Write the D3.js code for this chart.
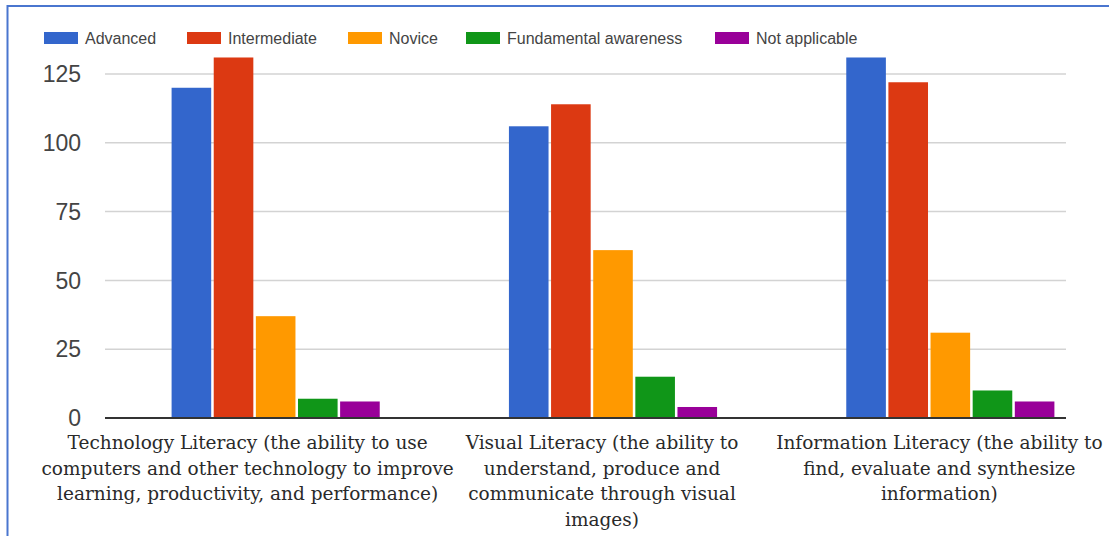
<!DOCTYPE html>
<html>
<head>
<meta charset="utf-8">
<script src="https://cdn.jsdelivr.net/npm/d3@7"></script>
<style>
  html, body { margin: 0; padding: 0; background: #fff; }
  svg { display: block; }
</style>
</head>
<body>
<svg id="chart" width="1109" height="536"></svg>
<script>
const categories = ["Technology", "Visual", "Information"];
const categoryLabels = [
  ["Technology Literacy (the ability to use", "computers and other technology to improve", "learning, productivity, and performance)"],
  ["Visual Literacy (the ability to", "understand, produce and", "communicate through visual", "images)"],
  ["Information Literacy (the ability to", "find, evaluate and synthesize", "information)"]
];
const seriesNames = ["Advanced", "Intermediate", "Novice", "Fundamental awareness", "Not applicable"];
const seriesColors = ["#3366cc", "#dc3912", "#ff9900", "#109618", "#990099"];
const advanced = [120, 106, 131];
const intermediate = [131, 114, 122];
const novice = [37, 61, 31];
const fundamental = [7, 15, 10];
const notApplicable = [6, 4, 6];
const yTicks = [0, 25, 50, 75, 100, 125];

const seriesValues = [advanced, intermediate, novice, fundamental, notApplicable];

const svg = d3.select("#chart");

// outer frame (top + left blue border)
svg.append("line").attr("x1", 7).attr("x2", 1109).attr("y1", 6).attr("y2", 6)
  .attr("stroke", "#4a76cf").attr("stroke-width", 2);
svg.append("line").attr("x1", 7.5).attr("x2", 7.5).attr("y1", 5).attr("y2", 536)
  .attr("stroke", "#4a76cf").attr("stroke-width", 2);

const gridX0 = 105, gridX1 = 1066;
const y = d3.scaleLinear().domain([0, 125]).range([418, 74]);

const x0 = d3.scaleBand().domain(categories).range([107.5, 1118.5]).paddingInner(0.383).paddingOuter(0.19);
const x1 = d3.scaleBand().domain(seriesNames).range([0, x0.bandwidth()]).paddingInner(0.06);

// gridlines
svg.append("g").selectAll("line").data(yTicks.filter(d => d !== 0)).join("line")
  .attr("x1", gridX0).attr("x2", gridX1)
  .attr("y1", d => y(d)).attr("y2", d => y(d))
  .attr("stroke", "#d3d3d3").attr("stroke-width", 1.5);

// y tick labels
svg.append("g").selectAll("text").data(yTicks).join("text")
  .attr("x", 81).attr("y", d => y(d))
  .attr("dy", "0.36em")
  .attr("text-anchor", "end")
  .attr("font-family", "Liberation Sans, Arial, sans-serif")
  .attr("font-size", 23)
  .attr("fill", "#444")
  .text(d => d);

// bars
const groups = svg.append("g").selectAll("g").data(categories).join("g")
  .attr("transform", d => `translate(${x0(d)},0)`);
groups.selectAll("rect")
  .data((c, ci) => seriesNames.map((s, si) => ({ s, si, v: seriesValues[si][ci] })))
  .join("rect")
  .attr("x", d => x1(d.s))
  .attr("width", x1.bandwidth())
  .attr("y", d => y(d.v))
  .attr("height", d => y(0) - y(d.v))
  .attr("fill", d => seriesColors[d.si]);

// baseline
svg.append("line").attr("x1", gridX0).attr("x2", gridX1)
  .attr("y1", y(0)).attr("y2", y(0))
  .attr("stroke", "#333").attr("stroke-width", 2);

// category labels
const labelShift = [-28, -11, -11];
const labelG = svg.append("g").selectAll("text").data(categories).join("text")
  .attr("x", (d, i) => x0(d) + x0.bandwidth() / 2 + labelShift[i])
  .attr("y", 449)
  .attr("text-anchor", "middle")
  .attr("font-family", "DejaVu Serif, serif")
  .attr("font-size", 18.5)
  .attr("fill", "#2a2a2a");
labelG.selectAll("tspan").data((d, i) => categoryLabels[i]).join("tspan")
  .attr("x", function() { return d3.select(this.parentNode).attr("x"); })
  .attr("dy", (d, i) => i === 0 ? 0 : 25.5)
  .text(d => d);

// legend
const legendX = [44, 187, 348, 466, 715];
const legend = svg.append("g").selectAll("g").data(seriesNames).join("g")
  .attr("transform", (d, i) => `translate(${legendX[i]},32)`);
legend.append("rect").attr("width", 34).attr("height", 12).attr("fill", (d, i) => seriesColors[i]);
legend.append("text").attr("x", 41).attr("y", 6).attr("dy", "0.36em")
  .attr("font-family", "Liberation Sans, Arial, sans-serif")
  .attr("font-size", 16)
  .attr("fill", "#444")
  .text(d => d);
</script>
</body>
</html>
